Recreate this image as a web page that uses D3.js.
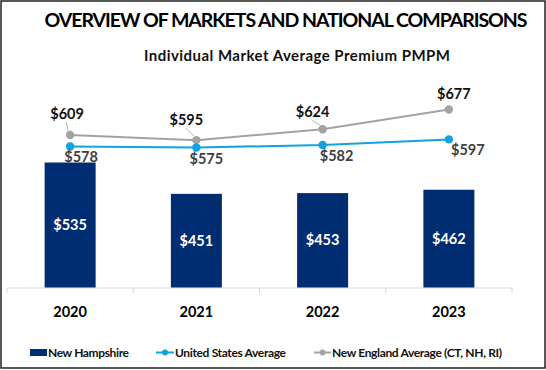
<!DOCTYPE html>
<html>
<head>
<meta charset="utf-8">
<script src="https://cdn.jsdelivr.net/npm/d3@7"></script>
<style>
  body { margin: 0; background: #fff; }
  text { font-family: Lato, "Open Sans", sans-serif; }
</style>
</head>
<body>
<svg width="546" height="370"></svg>
<script>
const years = ['2020', '2021', '2022', '2023'];
const newHampshire = [535, 451, 453, 462];
const usAverage = [578, 575, 582, 597];
const newEngland = [609, 595, 624, 677];
const legendNames = ['New Hampshire', 'United States Average', 'New England Average (CT, NH, RI)'];

const navy = '#002D72';
const blue = '#12A3DF';
const grey = '#A3A3A3';

// label offsets from the point (dx, dy of baseline)
const neOffsets = [[-3, -16], [-10, -15], [-10, -12], [5, -11]];
const usOffsets = [[11, 16], [10, 16], [14, 16], [19, 16]];

const svg = d3.select('svg');

// frame
svg.append('rect')
    .attr('x', 1).attr('y', 1)
    .attr('width', 544).attr('height', 367)
    .attr('fill', 'none')
    .attr('stroke', '#222')
    .attr('stroke-width', 1.5);

svg.append('text')
    .attr('x', 286).attr('y', 27)
    .attr('text-anchor', 'middle')
    .style('font-size', '19.5px')
    .style('font-weight', 'bold')
    .attr('textLength', 483)
    .text('OVERVIEW OF MARKETS AND NATIONAL COMPARISONS');

svg.append('text')
    .attr('x', 297).attr('y', 61)
    .attr('text-anchor', 'middle')
    .style('font-size', '15px')
    .style('font-weight', 'bold')
    .attr('fill', '#111')
    .attr('textLength', 306)
    .text('Individual Market Average Premium PMPM');

const x = d3.scaleBand()
    .domain(years)
    .range([7, 512]);

const y = d3.scaleLinear()
    .domain([200, 750])
    .range([287.5, 82.3]);

const barW = 51;

// axis
svg.append('line')
    .attr('x1', 7).attr('x2', 512)
    .attr('y1', 288).attr('y2', 288)
    .attr('stroke', '#d9d9d9').attr('stroke-width', 1);

svg.selectAll('.tick-mark')
    .data(x.domain().concat(['end']))
    .enter()
    .append('line')
    .attr('x1', (d, i) => 7 + i * x.bandwidth())
    .attr('x2', (d, i) => 7 + i * x.bandwidth())
    .attr('y1', 288).attr('y2', 293)
    .attr('stroke', '#d9d9d9');

svg.selectAll('.x-label')
    .data(years)
    .enter()
    .append('text')
    .attr('x', d => x(d) + x.bandwidth() / 2)
    .attr('y', 317)
    .attr('text-anchor', 'middle')
    .style('font-size', '14.5px')
    .style('font-weight', 'bold')
    .text(d => d);

// bars
svg.selectAll('rect.bar')
    .data(newHampshire)
    .enter()
    .append('rect')
    .attr('class', 'bar')
    .attr('x', (d, i) => x(years[i]) + x.bandwidth() / 2 - barW / 2)
    .attr('y', d => y(d))
    .attr('width', barW)
    .attr('height', d => y(200) - y(d))
    .attr('fill', navy);

svg.selectAll('.bar-label')
    .data(newHampshire)
    .enter()
    .append('text')
    .attr('x', (d, i) => x(years[i]) + x.bandwidth() / 2)
    .attr('y', d => (y(d) + y(200)) / 2 + 5)
    .attr('text-anchor', 'middle')
    .attr('fill', '#fff')
    .style('font-size', '14.5px')
    .style('font-weight', 'bold')
    .text(d => '$' + d);

const cx = (d, i) => x(years[i]) + x.bandwidth() / 2;
const line = d3.line().x(cx).y(d => y(d));

// New England line
svg.append('path')
    .datum(newEngland)
    .attr('d', line)
    .attr('fill', 'none')
    .attr('stroke', grey)
    .attr('stroke-width', 2);

// US line
svg.append('path')
    .datum(usAverage)
    .attr('d', line)
    .attr('fill', 'none')
    .attr('stroke', blue)
    .attr('stroke-width', 2);

// leader lines for grey labels
svg.selectAll('.leader')
    .data(newEngland.slice(0, 3))
    .enter()
    .append('line')
    .attr('x1', (d, i) => cx(d, i) + neOffsets[i][0] - 1)
    .attr('y1', (d, i) => y(d) + neOffsets[i][1] + 3)
    .attr('x2', (d, i) => cx(d, i) - 2)
    .attr('y2', d => y(d) - 4)
    .attr('stroke', '#bbb')
    .attr('stroke-width', 1);

svg.selectAll('.ne-dot')
    .data(newEngland)
    .enter()
    .append('circle')
    .attr('cx', cx)
    .attr('cy', d => y(d))
    .attr('r', 4.2)
    .attr('fill', grey);

svg.selectAll('.us-dot')
    .data(usAverage)
    .enter()
    .append('circle')
    .attr('cx', cx)
    .attr('cy', d => y(d))
    .attr('r', 4.2)
    .attr('fill', blue);

svg.selectAll('.ne-label')
    .data(newEngland)
    .enter()
    .append('text')
    .attr('x', (d, i) => cx(d, i) + neOffsets[i][0])
    .attr('y', (d, i) => y(d) + neOffsets[i][1])
    .attr('text-anchor', 'middle')
    .attr('fill', '#111')
    .style('font-size', '14.5px')
    .style('font-weight', 'bold')
    .text(d => '$' + d);

svg.selectAll('.us-label')
    .data(usAverage)
    .enter()
    .append('text')
    .attr('x', (d, i) => cx(d, i) + usOffsets[i][0])
    .attr('y', (d, i) => y(d) + usOffsets[i][1])
    .attr('text-anchor', 'middle')
    .attr('fill', '#404040')
    .style('font-size', '14.5px')
    .style('font-weight', 'bold')
    .text(d => '$' + d);

// legend
const legY = 357;
const lg = svg.append('g');
lg.append('rect')
    .attr('x', 30).attr('y', legY - 8)
    .attr('width', 17).attr('height', 7)
    .attr('fill', navy);
lg.append('line')
    .attr('x1', 156).attr('x2', 174)
    .attr('y1', legY - 4.5).attr('y2', legY - 4.5)
    .attr('stroke', blue).attr('stroke-width', 2);
lg.append('circle')
    .attr('cx', 165).attr('cy', legY - 4.5).attr('r', 3)
    .attr('fill', blue);
lg.append('line')
    .attr('x1', 314).attr('x2', 331)
    .attr('y1', legY - 4.5).attr('y2', legY - 4.5)
    .attr('stroke', grey).attr('stroke-width', 2);
lg.append('circle')
    .attr('cx', 322.5).attr('cy', legY - 4.5).attr('r', 3)
    .attr('fill', grey);

lg.selectAll('.leg-text')
    .data(legendNames)
    .enter()
    .append('text')
    .attr('x', (d, i) => [48, 175, 332][i])
    .attr('y', legY)
    .attr('textLength', (d, i) => [81, 111, 170][i])
    .attr('fill', '#111')
    .style('font-size', '12px')
    .style('font-weight', 'bold')
    .text(d => d);
</script>
</body>
</html>
